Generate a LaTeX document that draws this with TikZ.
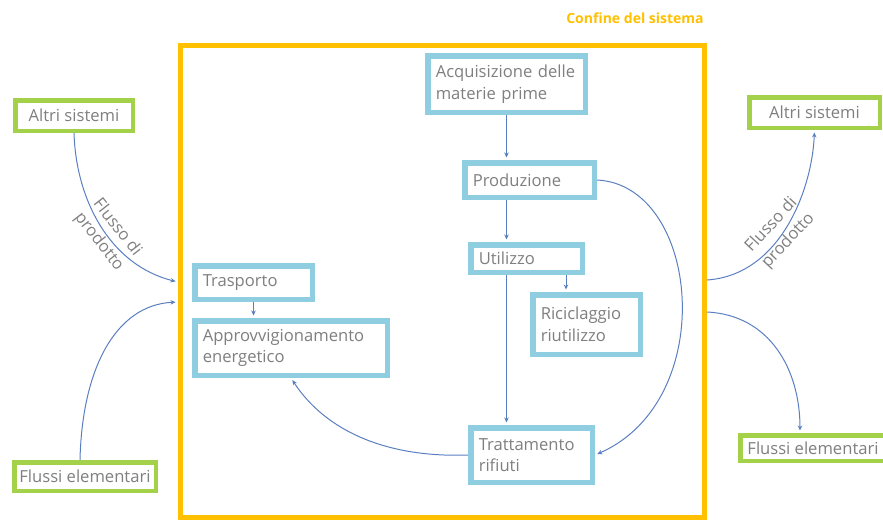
\documentclass[tikz,border=0pt]{standalone}
\usepackage{fontspec}
\setmainfont{Open Sans}
\usetikzlibrary{arrows.meta}
\definecolor{gold}{HTML}{FFC000}
\definecolor{stageblue}{HTML}{8FCEE0}
\definecolor{extgreen}{HTML}{A3D14A}
\definecolor{flowblue}{HTML}{5A7FC0}
\definecolor{labelgray}{HTML}{7F7F7F}
\begin{document}
\begin{tikzpicture}[x=1pt,y=-1pt,
  txt/.style={text=labelgray, font=\fontsize{16.6}{21.5}\selectfont},
  stage/.style={txt, draw=stageblue, line width=5.5pt, fill=white,
    inner xsep=8pt, inner ysep=2pt, align=left},
  ext/.style={txt, draw=extgreen, line width=4.5pt, fill=white, inner sep=2pt},
  flow/.style={draw=flowblue, line width=1pt,
    -{Stealth[length=5pt,width=4.5pt]}, shorten >=2.5pt},
  bound/.style={draw=gold, line width=5pt, inner sep=0pt},
  flowlabel/.style={txt, align=center, inner sep=1pt, font=\fontsize{16.6}{23}\selectfont},
]
\useasboundingbox (0,0) rectangle (883,520);

% system boundary
\node[bound, minimum width=524pt, minimum height=472pt] (boundary) at (442,281) {};
\node[text=gold, font=\fontsize{14}{16}\selectfont\bfseries] (title) at (635,18) {Confine del sistema};

% life-cycle stages inside the boundary
\node[stage, text width=141.5pt, minimum height=56.5pt] (acq) at (506.5,84) {Acquisizione~delle\\materie prime};
\node[stage, text width=113.5pt, minimum height=34.5pt] (prod) at (529.5,180) {Produzione};
\node[stage, text width=95.5pt, minimum height=27.5pt] (util) at (526.5,258.5) {Utilizzo};
\node[stage, text width=91.5pt, minimum height=59.5pt] (ric) at (586.5,324.5) {Riciclaggio\\riutilizzo};
\node[stage, text width=105.5pt, minimum height=54.5pt] (tratt) at (531.5,455) {Trattamento\\rifiuti};
\node[stage, text width=101.5pt, minimum height=33.5pt] (trasp) at (253.5,282.5) {Trasporto};
\node[stage, text width=176.5pt, minimum height=54.5pt] (appr) at (291,348) {Approvvigionamento\\energetico};

% external systems and elementary flows
\node[ext, minimum width=117.5pt, minimum height=30.5pt] (altriL) at (74,115.5) {Altri sistemi};
\node[ext, minimum width=141.5pt, minimum height=28.5pt] (flussiL) at (85,476.5) {Flussi~elementari};
\node[ext, minimum width=130.5pt, minimum height=30.5pt] (altriR) at (814.5,112.5) {Altri sistemi};
\node[ext, minimum width=145.5pt, minimum height=25.5pt] (flussiR) at (813,448) {Flussi~elementari};

% points on the boundary where the external flows cross it
\coordinate (inProd) at (178,282);
\coordinate (inElem) at (178,302);
\coordinate (outProd) at (707,280);
\coordinate (outElem) at (707,312);

% flows between stages
\draw[flow] (acq.south) -- (acq.south |- prod.north);
\draw[flow] (acq.south |- prod.south) -- (acq.south |- util.north);
\draw[flow] (acq.south |- util.south) -- (acq.south |- tratt.north);
\draw[flow] (566,0 |- util.south) -- (566,0 |- ric.north);
\draw[flow] (trasp.south) -- (trasp.south |- appr.north);
\draw[flow] (prod.east) .. controls (700,185) and (720,400) .. (tratt.east);
\draw[flow] (tratt.west) .. controls (385,458) and (325,430) .. (appr.south);

% flows across the boundary
\draw[flow] (altriL.south) .. controls (76,200) and (110,265) .. (inProd);
\draw[flow] (80,0 |- flussiL.north) .. controls (82,370) and (115,305) .. (inElem);
\draw[flow] (outProd) .. controls (780,275) and (812,190) .. (altriR.south);
\draw[flow] (outElem) .. controls (770,315) and (800,370) .. (800,0 |- flussiR.north);

% labels of the product flows
\node[flowlabel, rotate=-52] (lblL) at (108,235) {Flusso di\\prodotto};
\node[flowlabel, rotate=47] (lblR) at (780,233) {Flusso di\\prodotto};
\end{tikzpicture}
\end{document}
